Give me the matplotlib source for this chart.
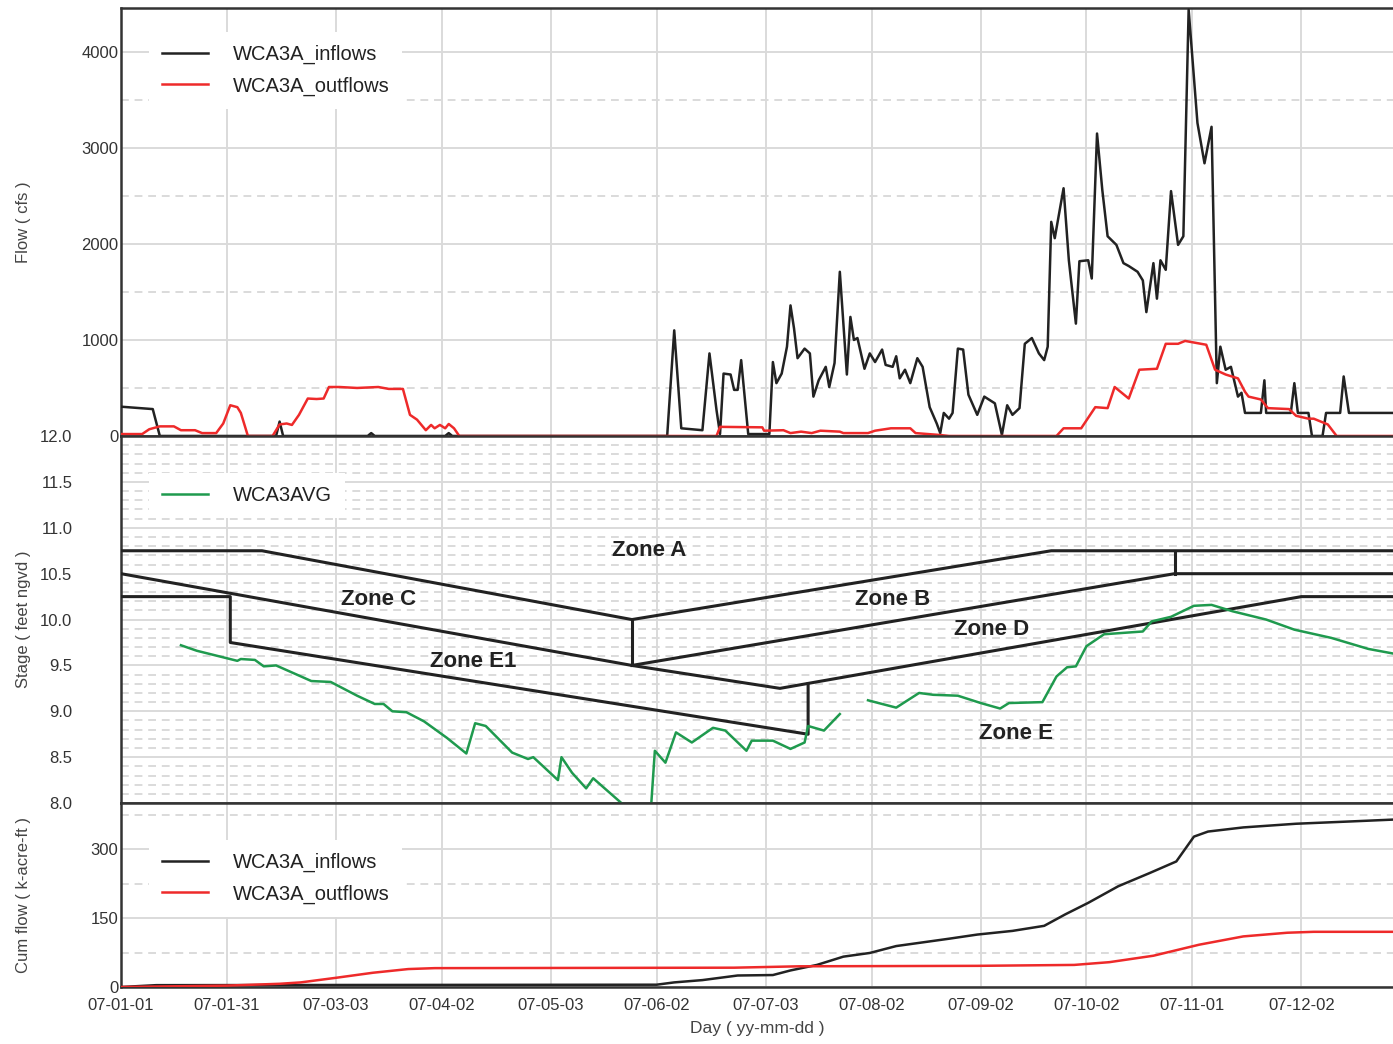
import numpy as np
import matplotlib
matplotlib.use("Agg")
import matplotlib.pyplot as plt
import matplotlib.dates as mdates
from matplotlib.ticker import FixedLocator, FormatStrFormatter

plt.rcParams['font.family'] = ['Liberation Sans', 'DejaVu Sans']

# ---- data (days counted from 2007-01-01) ----
start_date = '2007-01-01'
end_day = 361

tick_dates = ['2007-01-01', '2007-01-31', '2007-03-03', '2007-04-02', '2007-05-03',
              '2007-06-02', '2007-07-03', '2007-08-02', '2007-09-02', '2007-10-02',
              '2007-11-01', '2007-12-02']

inflow_days = [0, 9, 11, 44, 45, 46, 70, 71, 72, 92, 93, 94, 155, 157, 159, 165, 167, 169,
               170, 171, 173, 174, 175, 176, 178, 184, 185, 186, 187.5, 189, 190, 191, 192,
               194, 195.5, 196.5, 198, 200, 201, 202.5, 204, 206, 207, 208, 209, 211, 212.5,
               214, 216, 217, 219, 220, 221, 222.5, 224, 226, 227.5, 229.5, 231.5, 232.5,
               233.5, 235, 236, 237.5, 239, 240.5, 243, 245, 248, 250, 251.5, 253, 255,
               256.5, 258.5, 260.5, 262, 263, 264, 265, 267.5, 269, 271, 272, 274.5, 275.5,
               277, 278.5, 280, 282.5, 284.5, 286, 288.5, 290, 291, 293, 294, 295, 296.5,
               298, 300, 301.5, 303, 305.5, 307.5, 309.5, 311, 312, 313.5, 315, 317, 318,
               319, 323.5, 324.5, 325, 332, 333, 334, 337, 338, 341, 342, 346, 347, 348.5, 361]
inflow_cfs = [305, 280, 0, 0, 150, 0, 0, 30, 0, 0, 30, 0, 0, 1100, 80, 60, 860, 270,
              20, 650, 640, 480, 480, 790, 20, 20, 770, 550, 650, 930, 1360, 1120, 810,
              910, 860, 410, 580, 720, 510, 760, 1710, 640, 1240, 1000, 1020, 700, 860,
              770, 900, 740, 720, 830, 600, 690, 550, 810, 720, 300, 130, 30,
              240, 180, 240, 910, 900, 430, 220, 410, 340, 10, 320, 220, 290,
              960, 1020, 860, 790, 930, 2230, 2060, 2580, 1830, 1170, 1820, 1830, 1640,
              3150, 2560, 2080, 1990, 1800, 1770, 1710, 1620, 1290, 1800, 1430, 1830, 1730,
              2550, 1990, 2080, 4440, 3260, 2840, 3220, 550, 930, 690, 720, 410, 450,
              240, 240, 580, 240, 240, 550, 240, 240, 0, 0, 240, 240, 620, 240, 240]

outflow_days = [0, 6, 8, 11, 15, 17, 21, 23, 27, 29, 31, 33, 34, 36, 43, 45, 47, 48.5,
                50.5, 53, 55.5, 57.5, 59, 62, 67, 73, 76, 80, 82, 84, 86.5, 88, 89, 90.5,
                92, 93, 94.5, 96, 169, 170, 182, 182.5, 188, 190, 193, 196, 198.5, 204,
                205, 212, 214, 218.5, 224, 225.5, 232.5, 235, 265.5, 267.5, 272.5, 276.5,
                280, 282, 286, 289, 294, 296.5, 300, 302, 308, 310.5, 313.5, 317, 319,
                320, 323.5, 325.5, 331.5, 333.5, 337, 338.5, 342.5, 345, 361]
outflow_cfs = [20, 20, 70, 100, 100, 60, 60, 30, 30, 130, 320, 300, 240, 0, 0, 120, 130, 115,
               220, 390, 385, 390, 510, 510, 500, 510, 490, 490, 220, 170, 60, 115, 80, 115,
               80, 125, 80, 0, 0, 95, 90, 55, 60, 30, 45, 30, 55, 45,
               30, 30, 55, 80, 80, 30, 10, 0, 0, 80, 80, 300,
               290, 510, 390, 690, 700, 960, 960, 990, 950, 690, 640, 600, 460,
               410, 380, 290, 280, 210, 180, 180, 120, 0, 0]

stage_days = [17, 21.5, 33, 34, 38, 40.5, 44, 54, 59.5, 67, 72, 74.5, 77, 81, 86, 92.5, 98,
              100.5, 103.5, 111, 115.5, 117, 124, 125, 128, 132, 134, 142, 146, 150.5,
              151.5, 154.5, 157.5, 162, 168, 171.5, 177.5, 179, 185, 190, 194, 195, 199.5,
              204, 208, 212, 220, 226.5, 230.5, 237.5, 244, 249.5, 252, 261.5, 265.5,
              268.5, 271, 274, 279, 290, 292.5, 298, 304.5, 309.5, 315.5, 325, 333, 343.5,
              354, 361]
stage_ft = [9.72, 9.66, 9.55, 9.57, 9.56, 9.49, 9.50, 9.33, 9.32, 9.17, 9.08, 9.08, 9.00, 8.99,
            8.89, 8.71, 8.54, 8.87, 8.84, 8.55, 8.48, 8.50, 8.25, 8.50, 8.33, 8.16, 8.27, 8.00,
            7.85, 8.00, 8.57, 8.44, 8.77, 8.66, 8.82, 8.79, 8.57, 8.68, 8.68, 8.59, 8.66, 8.84,
            8.79, 8.97, np.nan, 9.12, 9.04, 9.20, 9.18, 9.17, 9.09, 9.03, 9.09, 9.10, 9.38,
            9.48, 9.49, 9.71, 9.84, 9.87, 9.98, 10.03, 10.15, 10.16, 10.09, 10.00, 9.89, 9.80,
            9.68, 9.63]

cum_in_days = [0, 10, 152, 157, 165, 175, 185, 190, 197.5, 205, 212.5, 220, 227.5, 235, 243,
               253, 262, 268, 274.5, 283, 292, 299.5, 304.5, 308.5, 318.5, 333.5, 349, 361]
cum_in_kaf = [0, 4, 5, 10, 15, 25, 26, 36, 48, 66, 74, 89, 97, 105, 114,
              122, 133, 158, 183, 219, 248, 273, 327, 338, 347, 355, 360, 364]

cum_out_days = [0, 30, 45, 51, 61, 71.5, 81.5, 89, 174, 192.5, 243, 270.5, 280.5, 293, 306,
                318.5, 331, 338.5, 361]
cum_out_kaf = [0, 3, 7, 10, 20, 31, 39, 41, 42, 45, 46, 48, 54, 68, 92, 110, 118, 120, 120]

# regulation schedule lines (day, stage)
zone_lines = [
    [(0, 10.75), (40, 10.75), (145, 10.0), (264, 10.75), (361, 10.75)],
    [(145, 10.0), (145, 9.5)],
    [(0, 10.5), (145, 9.5), (187, 9.25), (335, 10.25), (361, 10.25)],
    [(145, 9.5), (299, 10.5), (361, 10.5)],
    [(299, 10.75), (299, 10.5)],
    [(0, 10.25), (31, 10.25), (31, 9.75), (195, 8.75), (195, 9.30)],
]
zone_names = ['Zone A', 'Zone B', 'Zone C', 'Zone D', 'Zone E1', 'Zone E']
zone_label_pos = [(150, 10.75), (219, 10.22), (73, 10.22), (247, 9.89), (100, 9.54), (254, 8.76)]

base = mdates.datestr2num(start_date)


def to_x(days):
    return base + np.asarray(days, dtype=float)


# ---- figure ----
fig = plt.figure(figsize=(13.93, 10.44), dpi=100)
left, width = 0.0869, 0.9131
ax1 = fig.add_axes([left, 0.5824, width, 0.41])
ax2 = fig.add_axes([left, 0.2308, width, 0.3515], sharex=ax1)
ax3 = fig.add_axes([left, 0.0546, width, 0.1762], sharex=ax1)

grid_c = '#dadada'
spine_c = '#333333'
label_c = '#444444'
black = '#222222'
red = '#ee2a2a'
green = '#1f9a4e'


def style_axis(ax, major, minor):
    ax.yaxis.set_major_locator(FixedLocator(major))
    ax.yaxis.set_minor_locator(FixedLocator(minor))
    ax.grid(True, which='major', axis='both', color=grid_c, lw=1.4, zorder=0)
    ax.grid(True, which='minor', axis='y', color=grid_c, lw=1.4, ls=(0, (4, 3)), zorder=0)
    ax.tick_params(which='both', length=0, labelsize=12, labelcolor='#333333')
    for s in ['left', 'top', 'bottom']:
        ax.spines[s].set_color(spine_c)
        ax.spines[s].set_linewidth(1.8)
    ax.spines['right'].set_visible(False)
    ax.set_axisbelow(True)


def add_legend(ax, anchor):
    leg = ax.legend(loc='upper left', bbox_to_anchor=anchor, borderaxespad=0, fontsize=14.5,
                    frameon=True, fancybox=False, framealpha=1, edgecolor='none',
                    handlelength=2.3, handletextpad=1.2, labelspacing=0.6, borderpad=0.65)
    for t in leg.get_texts():
        t.set_color(black)
    leg.set_zorder(5)


# top panel: flows
ax1.plot(to_x(inflow_days), inflow_cfs, color=black, lw=1.8, label='WCA3A_inflows', zorder=3)
ax1.plot(to_x(outflow_days), outflow_cfs, color=red, lw=1.8, label='WCA3A_outflows', zorder=3)
ax1.set_ylim(0, 4458)
style_axis(ax1, [0, 1000, 2000, 3000, 4000], [500, 1500, 2500, 3500])
ax1.tick_params(axis='y', pad=2)
ax1.tick_params(axis='x', labelbottom=False)
ax1.set_ylabel('Flow ( cfs )', fontsize=12, color=label_c)
ax1.yaxis.set_label_coords(-0.071, 0.5)
add_legend(ax1, (0.022, 0.944))

# middle panel: stage with schedule zones
for seg in zone_lines:
    d, s = zip(*seg)
    ax2.plot(to_x(d), s, color=black, lw=2.2, zorder=3)
ax2.plot(to_x(stage_days), stage_ft, color=green, lw=1.8, label='WCA3AVG', zorder=4)
for name, (d, s) in zip(zone_names, zone_label_pos):
    ax2.text(to_x(d), s, name, fontsize=16, fontweight='bold', color=black,
             ha='center', va='center', zorder=6)
ax2.set_ylim(8.0, 12.0)
style_axis(ax2, np.arange(8.0, 12.01, 0.5),
           [v for v in np.arange(8.1, 12.0, 0.1) if abs(v * 2 - round(v * 2)) > 0.01])
ax2.yaxis.set_major_formatter(FormatStrFormatter('%.1f'))
ax2.tick_params(axis='y', pad=35)
ax2.tick_params(axis='x', labelbottom=False)
ax2.set_ylabel('Stage ( feet ngvd )', fontsize=12, color=label_c)
ax2.yaxis.set_label_coords(-0.071, 0.5)
add_legend(ax2, (0.022, 0.9))

# bottom panel: cumulative flow
ax3.plot(to_x(cum_in_days), cum_in_kaf, color=black, lw=1.8, label='WCA3A_inflows', zorder=3)
ax3.plot(to_x(cum_out_days), cum_out_kaf, color=red, lw=1.8, label='WCA3A_outflows', zorder=3)
ax3.set_ylim(0, 400)
style_axis(ax3, [0, 150, 300], [75, 225, 375])
ax3.tick_params(axis='y', pad=2)
ax3.set_ylabel('Cum flow ( k-acre-ft )', fontsize=12, color=label_c)
ax3.yaxis.set_label_coords(-0.071, 0.5)
add_legend(ax3, (0.022, 0.80))

ax3.set_xlim(base, base + end_day)
ax3.xaxis.set_major_locator(FixedLocator(mdates.datestr2num(tick_dates)))
ax3.xaxis.set_major_formatter(mdates.DateFormatter('%y-%m-%d'))
ax3.tick_params(axis='x', pad=8)
ax3.set_xlabel('Day ( yy-mm-dd )', fontsize=12.5, color=label_c, labelpad=6)

fig.savefig('out.png', dpi=100)
